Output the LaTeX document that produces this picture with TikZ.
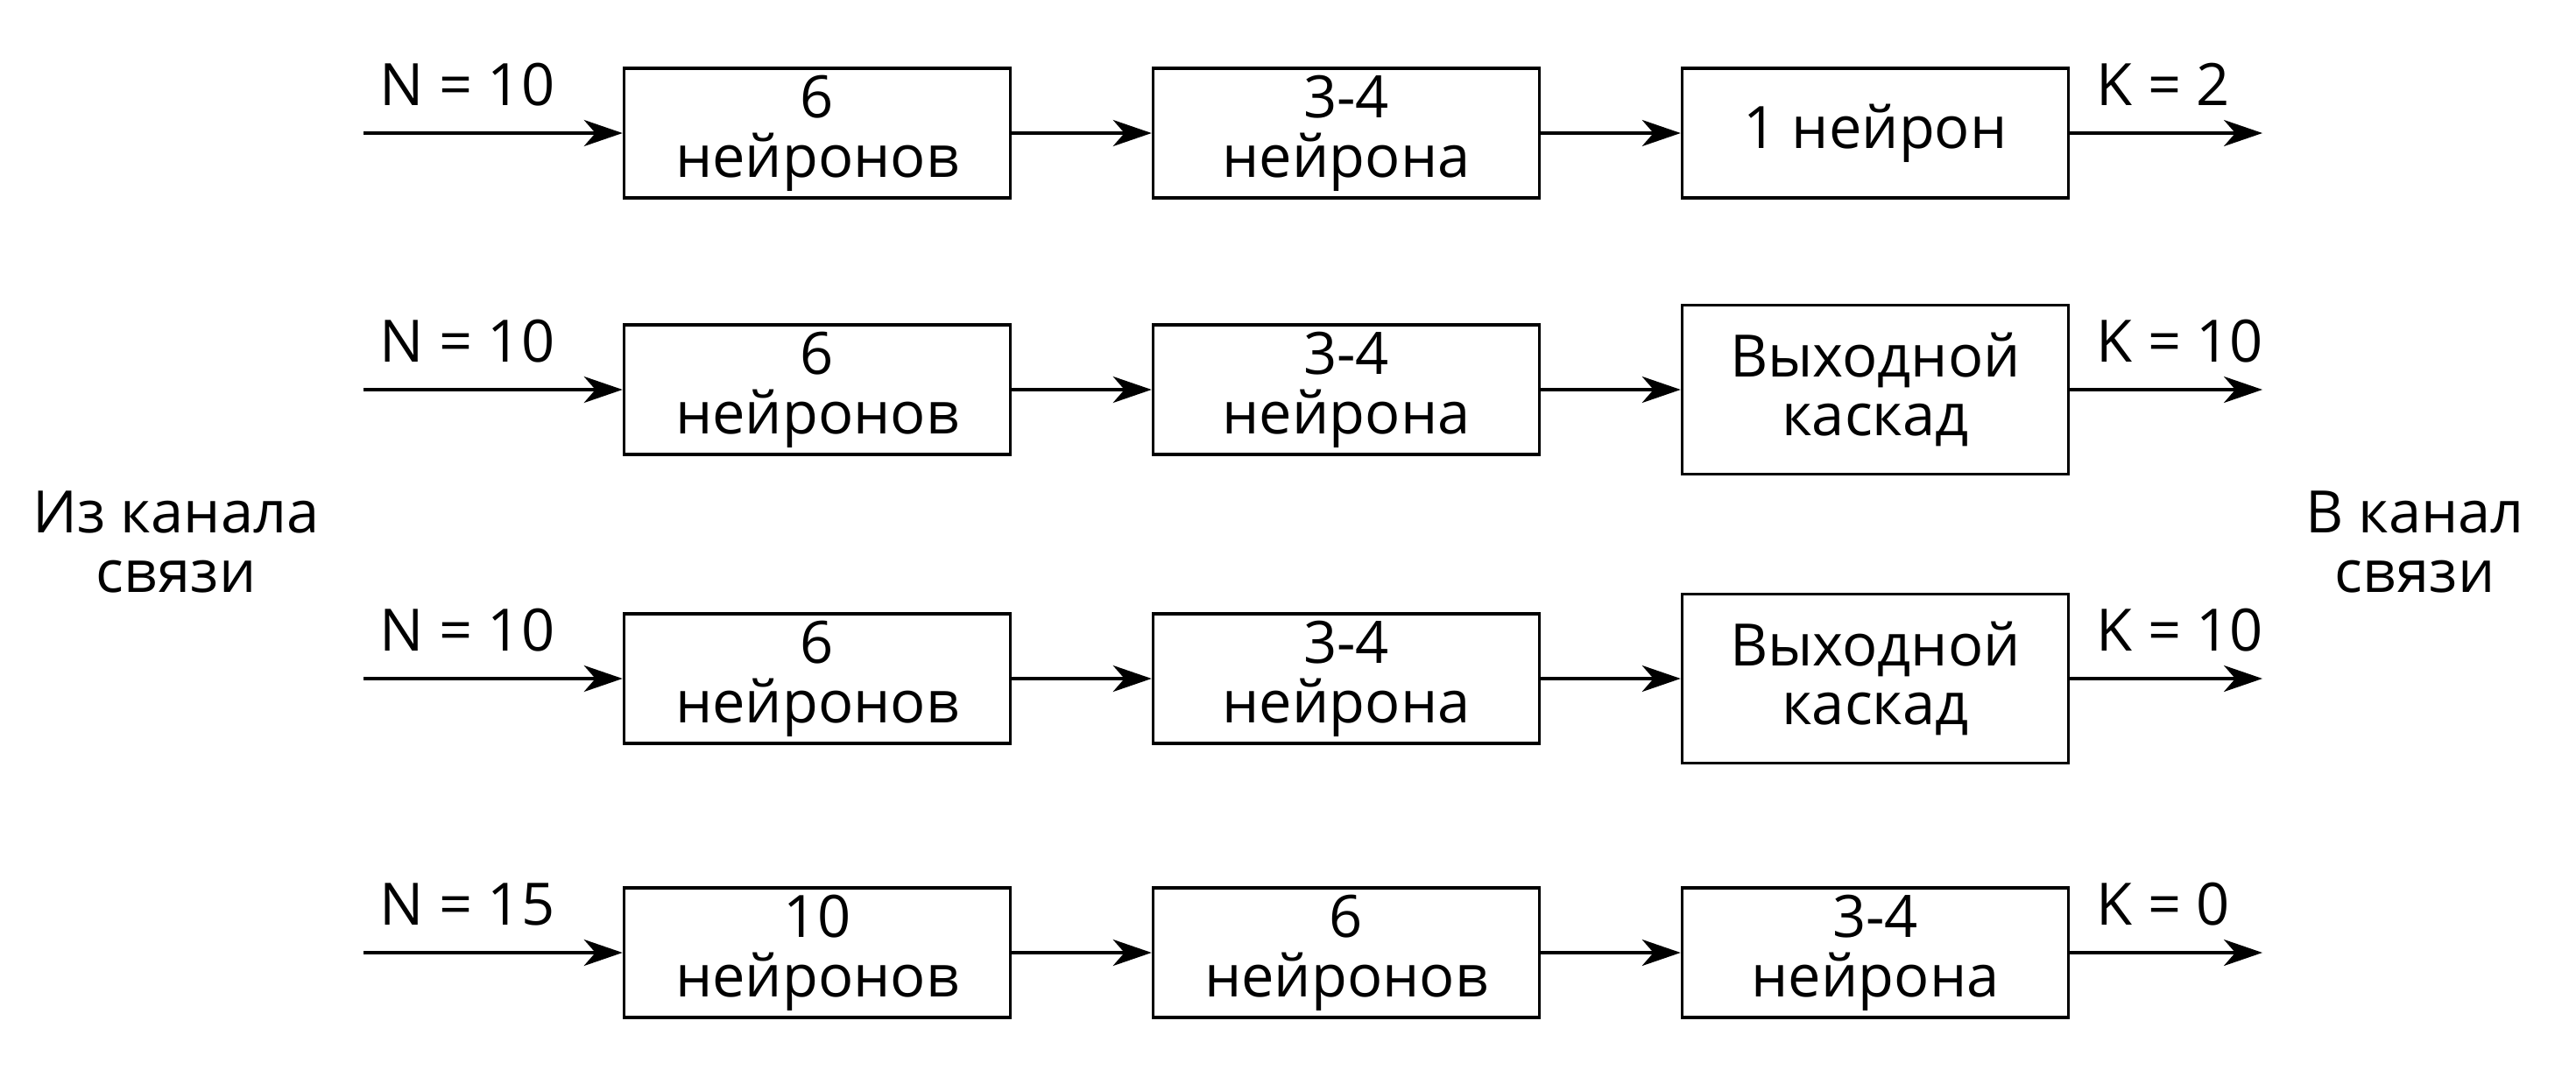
\documentclass[tikz,border=0pt]{standalone}
\usepackage{fontspec}
\setmainfont{Open Sans}
\usetikzlibrary{arrows.meta}
\tikzset{
	blk/.style={draw, line width=1pt, minimum width=4.41cm, minimum height=1.48cm, inner sep=0pt, align=center, font=\fontsize{19}{19.3}\selectfont},
	tallblk/.style={blk, minimum height=1.93cm},
	lbl/.style={anchor=base west, inner sep=0pt, font=\fontsize{19}{19.3}\selectfont},
	side/.style={align=center, font=\fontsize{19}{19.3}\selectfont},
	flow/.style={line width=1pt, -{Stealth[length=0.44cm, width=0.3cm, inset=0.13cm]}}
}
\begin{document}
\begin{tikzpicture}
		%%%%% START %%%%%
		\useasboundingbox (0, 0) rectangle (29.41, -12.29);
		
		\node[side] (src) at (2.01, -6.19) {Из канала\\связи};
		\node[side] (dst) at (27.57, -6.19) {В канал\\связи};
		
		%%%%% row 1 %%%%%
		\coordinate (in1) at (4.15, -1.52);
		\coordinate (out1) at (25.83, -1.52);
		\node[blk] (a1) at (9.33, -1.52) {6\\нейронов};
		\node[blk] (b1) at (15.37, -1.52) {3-4\\нейрона};
		\node[blk] (c1) at (21.41, -1.52) {1 нейрон};
		\node[lbl] (n1) at (4.33, -1.2) {N = 10};
		\node[lbl] (k1) at (23.93, -1.2) {K = 2};
		\draw[flow] (in1) -- (a1);
		\draw[flow] (a1) -- (b1);
		\draw[flow] (b1) -- (c1);
		\draw[flow] (c1) -- (out1);
		
		%%%%% row 2 %%%%%
		\coordinate (in2) at (4.15, -4.45);
		\coordinate (out2) at (25.83, -4.45);
		\node[blk] (a2) at (9.33, -4.45) {6\\нейронов};
		\node[blk] (b2) at (15.37, -4.45) {3-4\\нейрона};
		\node[tallblk] (c2) at (21.41, -4.45) {Выходной\\каскад};
		\node[lbl] (n2) at (4.33, -4.13) {N = 10};
		\node[lbl] (k2) at (23.93, -4.13) {K = 10};
		\draw[flow] (in2) -- (a2);
		\draw[flow] (a2) -- (b2);
		\draw[flow] (b2) -- (c2);
		\draw[flow] (c2) -- (out2);
		
		%%%%% row 3 %%%%%
		\coordinate (in3) at (4.15, -7.75);
		\coordinate (out3) at (25.83, -7.75);
		\node[blk] (a3) at (9.33, -7.75) {6\\нейронов};
		\node[blk] (b3) at (15.37, -7.75) {3-4\\нейрона};
		\node[tallblk] (c3) at (21.41, -7.75) {Выходной\\каскад};
		\node[lbl] (n3) at (4.33, -7.43) {N = 10};
		\node[lbl] (k3) at (23.93, -7.43) {K = 10};
		\draw[flow] (in3) -- (a3);
		\draw[flow] (a3) -- (b3);
		\draw[flow] (b3) -- (c3);
		\draw[flow] (c3) -- (out3);
		
		%%%%% row 4 %%%%%
		\coordinate (in4) at (4.15, -10.88);
		\coordinate (out4) at (25.83, -10.88);
		\node[blk] (a4) at (9.33, -10.88) {10\\нейронов};
		\node[blk] (b4) at (15.37, -10.88) {6\\нейронов};
		\node[blk] (c4) at (21.41, -10.88) {3-4\\нейрона};
		\node[lbl] (n4) at (4.33, -10.56) {N = 15};
		\node[lbl] (k4) at (23.93, -10.56) {K = 0};
		\draw[flow] (in4) -- (a4);
		\draw[flow] (a4) -- (b4);
		\draw[flow] (b4) -- (c4);
		\draw[flow] (c4) -- (out4);
		
		%%%%% END %%%%%
	\end{tikzpicture}
\end{document}
